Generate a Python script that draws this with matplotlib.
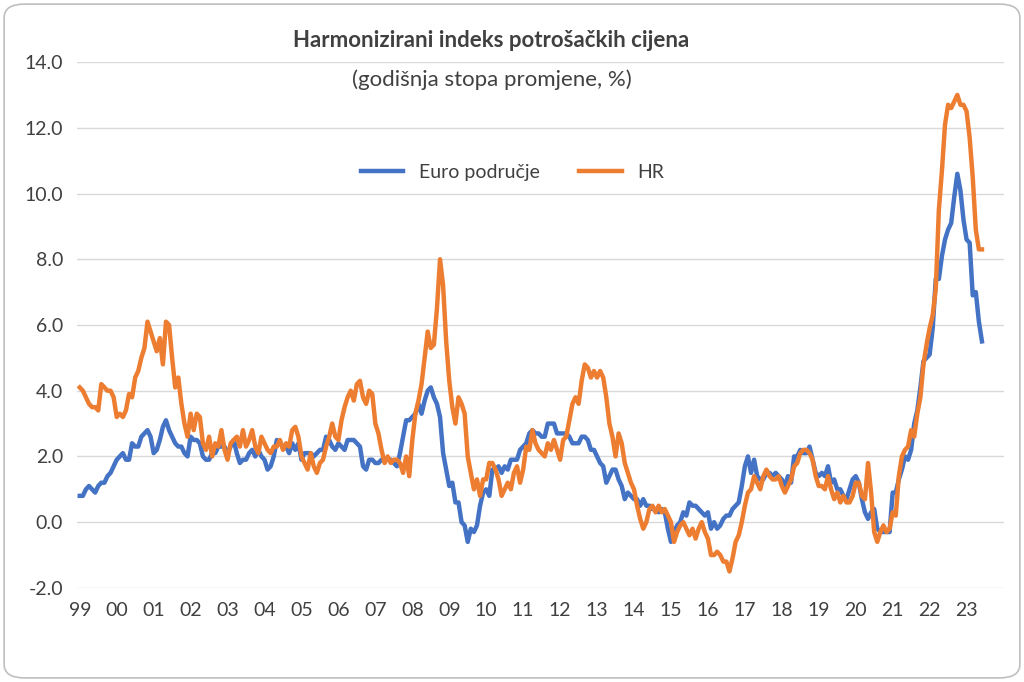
import matplotlib
matplotlib.use("Agg")
import matplotlib.pyplot as plt
from matplotlib.patches import FancyBboxPatch
import numpy as np

plt.rcParams["font.family"] = "Lato"

euro = [0.8,0.8,1.0,1.1,1.0,0.9,1.1,1.2,1.2,1.4,1.5,1.7,
1.9,2.0,2.1,1.9,1.9,2.4,2.3,2.3,2.6,2.7,2.8,2.6,
2.1,2.2,2.5,2.9,3.1,2.8,2.6,2.4,2.3,2.3,2.1,2.0,
2.6,2.5,2.5,2.4,2.0,1.9,1.9,2.1,2.1,2.3,2.3,2.3,
2.1,2.3,2.5,2.1,1.8,1.9,1.9,2.1,2.2,2.0,2.2,2.0,
1.9,1.6,1.7,2.0,2.5,2.4,2.3,2.3,2.1,2.4,2.2,2.4,
1.9,2.1,2.1,2.1,2.0,2.1,2.2,2.2,2.6,2.5,2.3,2.2,
2.4,2.3,2.2,2.5,2.5,2.5,2.4,2.3,1.7,1.6,1.9,1.9,
1.8,1.8,1.9,1.9,1.9,1.9,1.8,1.7,2.1,2.6,3.1,3.1,
3.2,3.3,3.6,3.3,3.7,4.0,4.1,3.8,3.6,3.2,2.1,1.6,
1.1,1.2,0.6,0.6,0.0,-0.1,-0.6,-0.2,-0.3,-0.1,0.5,0.9,
1.0,0.8,1.6,1.6,1.7,1.5,1.7,1.6,1.9,1.9,1.9,2.2,
2.3,2.4,2.7,2.8,2.7,2.7,2.6,2.6,3.0,3.0,3.0,2.7,
2.7,2.7,2.7,2.6,2.4,2.4,2.4,2.6,2.6,2.5,2.2,2.2,
2.0,1.8,1.7,1.2,1.4,1.6,1.6,1.3,1.1,0.7,0.9,0.8,
0.7,0.7,0.5,0.7,0.5,0.5,0.4,0.4,0.3,0.4,0.3,-0.2,
-0.6,-0.3,-0.1,0.0,0.3,0.2,0.6,0.5,0.5,0.4,0.3,0.2,
0.3,-0.2,0.0,-0.2,-0.1,0.1,0.2,0.2,0.4,0.5,0.6,1.1,
1.7,2.0,1.5,1.9,1.4,1.3,1.3,1.5,1.5,1.4,1.5,1.4,
1.3,1.1,1.4,1.2,2.0,2.0,2.2,2.1,2.1,2.3,1.9,1.5,
1.4,1.5,1.4,1.7,1.2,1.3,1.0,1.0,0.8,0.7,1.0,1.3,
1.4,1.2,0.7,0.3,0.1,0.3,0.4,-0.2,-0.3,-0.3,-0.3,-0.3,
0.9,0.9,1.3,1.6,2.0,1.9,2.2,3.0,3.4,4.1,4.9,5.0,
5.1,5.9,7.4,7.4,8.1,8.6,8.9,9.1,9.9,10.6,10.1,9.2,
8.6,8.5,6.9,7.0,6.1,5.5]

hr = [4.1,4.0,3.8,3.6,3.5,3.5,3.4,4.2,4.1,4.0,4.0,3.8,
3.2,3.3,3.2,3.4,3.9,3.8,4.4,4.6,5.0,5.3,6.1,5.8,
5.5,5.2,5.6,4.8,6.1,6.0,5.0,4.1,4.4,3.6,3.0,2.6,
3.3,2.8,3.3,3.2,2.4,2.2,2.6,2.0,2.4,2.3,2.8,2.2,
1.9,2.4,2.5,2.6,2.3,2.8,2.3,2.5,2.8,2.3,2.1,2.6,
2.4,2.2,2.1,2.3,2.3,2.5,2.2,2.4,2.3,2.8,2.9,2.6,
2.0,1.8,1.6,2.1,1.7,1.5,1.8,1.9,2.3,2.6,3.0,2.6,
2.5,3.1,3.5,3.8,4.0,3.7,4.2,4.3,3.8,3.6,4.0,3.9,
3.0,2.7,2.2,1.8,2.0,1.8,1.9,1.9,1.8,1.5,2.0,1.4,
2.5,3.3,3.7,4.2,5.0,5.8,5.3,5.4,6.5,8.0,7.2,5.5,
4.3,3.5,3.0,3.8,3.6,3.3,2.0,1.5,1.0,1.3,0.8,1.3,
1.3,1.8,1.8,1.6,1.3,0.8,1.0,1.2,1.0,1.5,1.7,1.2,
1.6,2.3,2.2,2.8,2.4,2.2,2.1,2.0,2.4,2.2,2.5,2.2,
1.9,2.5,2.6,3.1,3.6,3.8,3.6,4.3,4.8,4.7,4.4,4.6,
4.4,4.6,4.4,3.8,3.0,2.6,2.0,2.7,2.4,1.8,1.5,1.2,
1.0,0.5,0.1,-0.2,0.0,0.4,0.5,0.3,0.5,0.3,0.4,0.2,
0.0,-0.6,-0.3,-0.1,0.0,-0.2,-0.4,-0.2,-0.5,-0.2,0.0,-0.3,
-0.5,-1.0,-1.0,-0.9,-1.0,-1.2,-1.2,-1.5,-1.1,-0.6,-0.4,0.0,
0.5,0.9,1.0,1.4,1.2,1.0,1.4,1.6,1.4,1.3,1.3,1.4,
1.1,0.9,1.1,1.3,1.7,1.8,2.1,2.2,2.2,2.1,1.9,1.4,
1.1,1.1,1.0,1.4,1.0,0.7,0.9,0.6,0.8,0.6,0.6,0.8,
1.2,1.2,0.8,0.7,1.8,0.9,-0.3,-0.6,-0.3,-0.1,-0.3,-0.2,
0.3,0.2,1.4,2.0,2.2,2.3,2.8,2.6,3.3,3.8,4.8,5.4,
5.9,6.3,7.1,9.5,10.7,12.1,12.7,12.6,12.8,13.0,12.7,12.7,
12.5,11.7,10.5,8.9,8.3,8.3]

year_labels = ["99"] + [f"{y:02d}" for y in range(0, 24)]
y_ticks = [-2.0, 0.0, 2.0, 4.0, 6.0, 8.0, 10.0, 12.0, 14.0]

t_e = 1999 + np.arange(len(euro)) / 12
t_h = 1999 + np.arange(len(hr)) / 12

fig = plt.figure(figsize=(10.24, 6.82), dpi=100)
fig.patches.append(FancyBboxPatch((0.004, 0.006), 0.992, 0.988, boxstyle="round,pad=0,rounding_size=0.02",
                                  transform=fig.transFigure, fill=False, edgecolor="#bfbfbf", linewidth=1.2))
ax = fig.add_axes([0.075, 0.138, 0.905, 0.771])
ax.plot(t_e, euro, color="#4472c4", lw=3.2, label="Euro područje")
ax.plot(t_h, hr, color="#ed7d31", lw=3.2, label="HR")
ax.set_ylim(-2.0, 14.0)
ax.set_xlim(1999 - 0.08, 2024.0)
ax.set_yticks(y_ticks)
ax.set_yticklabels([f"{v:.1f}" for v in y_ticks], fontsize=14, color="#404040")
ax.set_xticks(1999 + np.arange(len(year_labels)))
ax.set_xticklabels(year_labels, fontsize=14, color="#404040")
ax.tick_params(length=0, pad=10)
ax.grid(axis="y", color="#d9d9d9", lw=1)
ax.set_axisbelow(True)
for s in ax.spines.values():
    s.set_visible(False)
fig.text(0.48, 0.941, "Harmonizirani indeks potrošačkih cijena", ha="center", va="center", fontsize=16,
         fontweight="bold", color="#404040")
fig.text(0.48, 0.883, "(godišnja stopa promjene, %)", ha="center", va="center", fontsize=16, color="#404040")
ax.legend(loc="upper center", bbox_to_anchor=(0.47, 0.84), ncol=2, frameon=False, fontsize=14,
          handlelength=2.2, columnspacing=2.0, labelcolor="#404040")
fig.savefig("out.png", dpi=100)
